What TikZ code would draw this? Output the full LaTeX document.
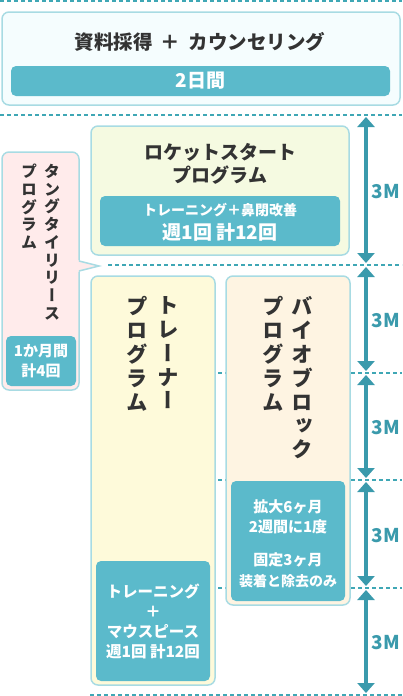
\documentclass[tikz,border=0pt]{standalone}
\usepackage{fontspec}
\newfontfamily\jp{Noto Sans CJK JP}
\newfontfamily\jpv[RawFeature=+vert]{Noto Sans CJK JP}
\usetikzlibrary{arrows.meta}
\definecolor{ink}{HTML}{333333}
\definecolor{rim}{HTML}{A8DBE3}
\definecolor{barfill}{HTML}{5BBACB}
\definecolor{guidecol}{HTML}{3FA7B5}
\definecolor{spancol}{HTML}{3A9AAC}
\definecolor{topfill}{HTML}{F5FDFE}
\definecolor{rocketfill}{HTML}{F5FAE1}
\definecolor{tonguefill}{HTML}{FFEBEB}
\definecolor{trainerfill}{HTML}{FEFADA}
\definecolor{biofill}{HTML}{FEF4E2}
\newcommand{\jpsize}[2]{\fontsize{#1}{#2}\selectfont}
\begin{document}
\begin{tikzpicture}[x=1pt,y=-1pt,
  box/.style={draw=rim, line width=1.5pt, rounded corners=7pt, inner sep=0pt},
  bar/.style={fill=barfill, rounded corners=5pt, inner sep=0pt, text=white, align=center},
  guide/.style={draw=guidecol, line width=1.1pt, dash pattern=on 4pt off 3pt},
  span/.style={draw=spancol, line width=4pt, {Triangle[width=17pt,length=10pt]}-{Triangle[width=17pt,length=10pt]}, shorten >=2pt, shorten <=2pt},
  title/.style={text=ink, align=center, inner sep=0pt},
  vbig/.style={text=ink, align=center, inner sep=0pt, anchor=north, font=\jpv\bfseries\jpsize{21.5}{23.8}},
  vsmall/.style={text=ink, align=center, inner sep=0pt, anchor=north, font=\jpv\bfseries\jpsize{16}{17.7}},
  mlabel/.style={text=spancol, inner sep=0pt, font=\jp\bfseries\jpsize{19}{19}}]
\useasboundingbox (0,0) rectangle (402,696);

% dashed guides
\path[guide] (0,1) -- (402,1);
\path[guide] (0,115) -- (402,115);
\path[guide] (108,265) -- (402,265);
\path[guide] (218,373) -- (402,373);
\path[guide] (218,480) -- (402,480);
\path[guide] (218,588) -- (402,588);
\path[guide] (90,695) -- (402,695);

% consultation
\node[box, fill=topfill, minimum width=398pt, minimum height=93pt] (top) at (201,58.5) {};
\node[title, font=\jp\bfseries\jpsize{19.5}{23}] (toptitle) at (200,42) {資料採得\hspace{4pt} ＋ \hspace{4pt}カウンセリング};
\node[bar, minimum width=379pt, minimum height=30pt, font=\jp\bfseries\jpsize{19}{23}] (topbar) at (200.5,81) {2日間};

% rocket start
\node[box, fill=rocketfill, minimum width=258pt, minimum height=129pt] (rocket) at (220,190.5) {};
\node[title, font=\jp\bfseries\jpsize{19}{23}] (rockettitle) at (220,163.5) {ロケットスタート\\プログラム};
\node[bar, minimum width=240pt, minimum height=50pt] (rocketbar) at (220,221) {};
\node[title, text=white, font=\jp\bfseries\jpsize{14}{16}] (rocketwhat) at (220,210) {トレーニング＋鼻閉改善};
\node[title, text=white, font=\jp\bfseries\jpsize{19}{22}] (rocketcount) at (220,232) {週1回 計12回};

% tongue tie release
\node[box, fill=tonguefill, minimum width=77pt, minimum height=238pt] (tongue) at (40.5,271) {};
\path[fill=tonguefill] (77,260) -- (99,266) -- (77,272) -- cycle;
\path[draw=rim, line width=1.5pt] (79,261) -- (99,266) -- (79,271);
\node[vsmall] (tongue1) at (52,164) {タ\\ン\\グ\\タ\\イ\\リ\\リ\\ー\\ス};
\node[vsmall] (tongue2) at (29,164) {プ\\ロ\\グ\\ラ\\ム};
\node[bar, minimum width=70pt, minimum height=50pt, font=\jp\bfseries\jpsize{15}{20}] (tonguebar) at (41,361) {1か月間\\計4回};

% trainer
\node[box, fill=trainerfill, minimum width=124pt, minimum height=409pt] (trainer) at (153,480.5) {};
\node[vbig] (trainer1) at (168,296.5) {ト\\レ\\ー\\ナ\\ー};
\node[vbig] (trainer2) at (137,296.5) {プ\\ロ\\グ\\ラ\\ム};
\node[bar, minimum width=114pt, minimum height=120pt, font=\jp\bfseries\jpsize{15.5}{20}] (trainerbar) at (153,621) {トレーニング\\＋\\マウスピース\\週1回 計12回};

% bioblock
\node[box, fill=biofill, minimum width=124pt, minimum height=329pt] (bio) at (288,440.5) {};
\node[vbig] (bio1) at (302,296.5) {バ\\イ\\オ\\ブ\\ロ\\ッ\\ク};
\node[vbig] (bio2) at (273,296.5) {プ\\ロ\\グ\\ラ\\ム};
\node[bar, minimum width=114pt, minimum height=120pt] (biobar) at (288,541) {};
\node[title, text=white, font=\jp\bfseries\jpsize{15}{20.5}] (bioexpand) at (288,517) {拡大6ヶ月\\2週間に1度};
\node[title, text=white, font=\jp\bfseries\jpsize{15}{20.5}] (biofix) at (288,570.5) {固定3ヶ月\\{\jpsize{14}{20.5}装着と除去のみ}};

% months
\coordinate (s0) at (366,115);
\coordinate (s1) at (366,265);
\coordinate (s2) at (366,373);
\coordinate (s3) at (366,480);
\coordinate (s4) at (366,588);
\coordinate (s5) at (366,695);
\path[span] (s0) -- (s1);
\path[span] (s1) -- (s2);
\path[span] (s2) -- (s3);
\path[span] (s3) -- (s4);
\path[span] (s4) -- (s5);
\node[mlabel] (m1) at (386,192) {3M};
\node[mlabel] (m2) at (386,321) {3M};
\node[mlabel] (m3) at (386,428) {3M};
\node[mlabel] (m4) at (386,536) {3M};
\node[mlabel] (m5) at (386,643) {3M};
\end{tikzpicture}
\end{document}
